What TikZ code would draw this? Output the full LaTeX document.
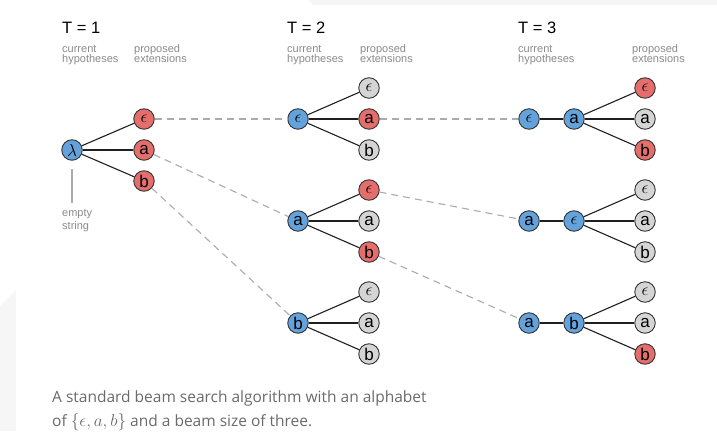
\documentclass[tikz,border=0pt]{standalone}
\usepackage{fontspec}
\setmainfont{Liberation Sans}
\newfontfamily\capfont{Open Sans}
\definecolor{hypc}{HTML}{64A2DC}
\definecolor{selc}{HTML}{E46E6C}
\definecolor{extc}{HTML}{D5D5D5}
\definecolor{rimc}{HTML}{333333}
\definecolor{dashc}{HTML}{ABABAB}
\definecolor{notec}{HTML}{8A8A8A}
\definecolor{capc}{HTML}{6A6A6A}
\definecolor{paperc}{HTML}{F6F6F6}
\tikzset{
  sym/.style={circle, draw=rimc, line width=0.9pt, minimum size=20.5pt, inner sep=0pt,
    font=\fontsize{17}{17}\selectfont},
  hyp/.style={sym, fill=hypc},
  sel/.style={sym, fill=selc},
  ext/.style={sym, fill=extc},
  tree/.style={draw=black!88, line width=1.1pt},
  beam/.style={draw=dashc, line width=1.1pt, dash pattern=on 7pt off 5pt},
  title/.style={anchor=base west, inner sep=0pt, font=\fontsize{16.5}{16.5}\selectfont},
  note/.style={anchor=base west, inner sep=0pt, text=notec, font=\fontsize{11}{11}\selectfont},
  caption/.style={anchor=base west, inner sep=0pt, text=capc, font=\capfont\fontsize{15.5}{15.5}\selectfont}
}
\newcommand{\eps}{$\epsilon$}
\newcommand{\capmath}[1]{{\fontsize{18}{18}\selectfont$#1$}}
\begin{document}
\begin{tikzpicture}[x=1pt, y=-1pt]
\useasboundingbox (0,0) rectangle (717,431);
% faint page shading
\fill[paperc] (308,0) -- (717,0) -- (717,5) -- (313,5) -- cycle;
\fill[paperc] (0,306) -- (16,290) -- (16,431) -- (0,431) -- cycle;

% column headings
\foreach \t/\cx/\px in {1/62/134, 2/287/360, 3/518/632} {
  \node[title] (title\t) at (\cx,33) {T = \t};
  \node[note] (cur\t) at (\cx,52) {current};
  \node[note] (hyp\t) at (\cx,62.5) {hypotheses};
  \node[note] (pro\t) at (\px,52) {proposed};
  \node[note] (ext\t) at (\px,62.5) {extensions};
}

% T = 1
\node[hyp] (l) at (72,150) {$\lambda$};
\node[sel] (l1) at (144,119) {\eps};
\node[sel] (l2) at (144,150) {a};
\node[sel] (l3) at (144,181) {b};
\foreach \k in {1,2,3} \draw[tree] (l) -- (l\k);
\coordinate (lt) at (72,169);
\coordinate (lb) at (72,203);
\draw[dashc, line width=1.1pt] (lt) -- (lb);
\node[note] (empty) at (62,216) {empty};
\node[note] (string) at (62,229) {string};

% T = 2
\node[hyp] (p) at (298,119) {\eps};
\node[ext] (p1) at (369,88) {\eps};
\node[sel] (p2) at (369,119) {a};
\node[ext] (p3) at (369,150) {b};
\node[hyp] (q) at (298,221) {a};
\node[sel] (q1) at (369,190) {\eps};
\node[ext] (q2) at (369,221) {a};
\node[sel] (q3) at (369,252) {b};
\node[hyp] (r) at (298,323) {b};
\node[ext] (r1) at (369,292) {\eps};
\node[ext] (r2) at (369,323) {a};
\node[ext] (r3) at (369,354) {b};
\foreach \n in {p,q,r} \foreach \k in {1,2,3} \draw[tree] (\n) -- (\n\k);

% T = 3
\node[hyp] (u0) at (529,119) {\eps};
\node[hyp] (u) at (574,119) {a};
\node[sel] (u1) at (645,88) {\eps};
\node[ext] (u2) at (645,119) {a};
\node[sel] (u3) at (645,150) {b};
\node[hyp] (v0) at (529,221) {a};
\node[hyp] (v) at (574,221) {\eps};
\node[ext] (v1) at (645,190) {\eps};
\node[ext] (v2) at (645,221) {a};
\node[ext] (v3) at (645,252) {b};
\node[hyp] (w0) at (529,323) {a};
\node[hyp] (w) at (574,323) {b};
\node[ext] (w1) at (645,292) {\eps};
\node[ext] (w2) at (645,323) {a};
\node[sel] (w3) at (645,354) {b};
\foreach \n in {u,v,w} {
  \draw[tree] (\n0) -- (\n);
  \foreach \k in {1,2,3} \draw[tree] (\n) -- (\n\k);
}

% surviving beams
\draw[beam] (l1) -- (p);
\draw[beam] (l2) -- (q);
\draw[beam] (l3) -- (r);
\draw[beam] (p2) -- (u0);
\draw[beam] (q1) -- (v0);
\draw[beam] (q3) -- (w0);

% caption
\node[caption] (cap1) at (52,402) {A standard beam search algorithm with an alphabet};
\node[caption] (cap2) at (52,426) {of \capmath{\{\epsilon, a, b\}} and a beam size of three.};
\end{tikzpicture}
\end{document}
